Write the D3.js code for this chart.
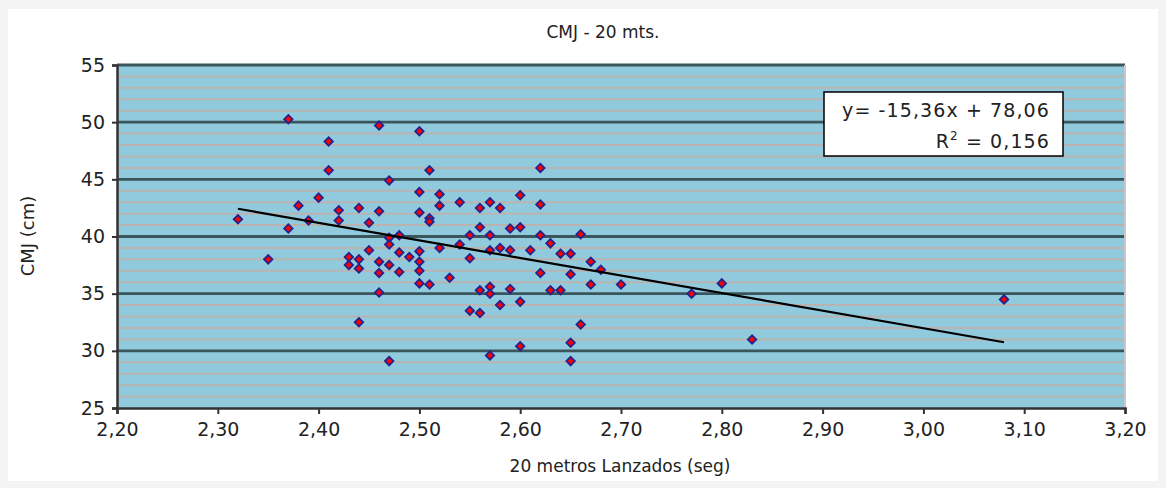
<!DOCTYPE html>
<html><head><meta charset="utf-8">
<script src="https://cdn.jsdelivr.net/npm/d3@7"></script>
<style>
html,body{margin:0;padding:0;background:#f4f4f4;}
svg{display:block;}
text{font-family:"DejaVu Sans",Verdana,sans-serif;fill:#222;}
</style></head>
<body><svg id="c" width="1166" height="488"></svg>
<script>
// ---- data ----
const chartTitle = "CMJ - 20 mts.";
const xLabel = "20 metros Lanzados (seg)";
const yLabel = "CMJ (cm)";
const xTicks = [2.2,2.3,2.4,2.5,2.6,2.7,2.8,2.9,3.0,3.1,3.2];
const yTicks = [25,30,35,40,45,50,55];
const sprintTimes = [
 2.32,2.35,2.37,2.37,2.38,2.39,2.40,2.41,2.41,2.42,2.42,2.43,2.43,
 2.44,2.44,2.44,2.44,2.45,2.45,2.46,2.46,2.46,2.46,2.46,
 2.47,2.47,2.47,2.47,2.47,2.48,2.48,2.48,2.49,
 2.50,2.50,2.50,2.50,2.50,2.50,2.50,2.51,2.51,2.51,2.51,
 2.52,2.52,2.52,2.53,2.54,2.54,2.55,2.55,2.55,
 2.56,2.56,2.56,2.56,2.57,2.57,2.57,2.57,2.57,2.57,
 2.58,2.58,2.58,2.59,2.59,2.59,2.60,2.60,2.60,2.60,2.61,
 2.62,2.62,2.62,2.62,2.63,2.63,2.64,2.64,2.65,2.65,2.65,2.65,
 2.66,2.66,2.67,2.67,2.68,2.70,2.77,2.80,2.83,3.08];
const cmjValues = [
 41.5,38.0,50.25,40.7,42.7,41.4,43.4,48.3,45.8,42.3,41.4,38.2,37.5,
 42.5,38.0,37.2,32.5,41.2,38.8,49.7,42.2,37.8,36.8,35.1,
 44.9,39.9,39.3,37.5,29.1,40.1,38.6,36.9,38.2,
 49.2,43.9,42.1,38.7,37.8,37.0,35.9,45.8,41.6,41.3,35.8,
 43.7,42.7,39.0,36.4,43.0,39.3,40.1,38.1,33.5,
 42.5,40.8,35.3,33.3,43.0,40.1,38.8,35.6,35.0,29.6,
 42.5,39.0,34.0,40.7,38.8,35.4,43.6,40.8,34.3,30.4,38.8,
 46.0,42.8,40.1,36.8,39.4,35.3,38.5,35.3,38.5,36.7,30.7,29.1,
 40.2,32.3,37.8,35.8,37.1,35.8,35.0,35.9,31.0,34.5];
const trendSlope = -15.36;
const trendIntercept = 78.06;
const eqText = "y= -15,36x + 78,06";
const r2Label = "0,156";

// ---- layout ----
const svg = d3.select("#c");
const plot = {l:117, r:1125, t:65, b:408};
const fmt = d3.format(".2f");
const comma = v => fmt(v).replace(".", ",");

svg.append("rect").attr("x",8).attr("y",9).attr("width",1150).attr("height",472).attr("fill","#fff");

const x = d3.scaleLinear().domain([2.2,3.2]).range([plot.l, plot.r]);
const y = d3.scaleLinear().domain([25,55]).range([plot.b, plot.t]);

svg.append("rect").attr("x",plot.l).attr("y",plot.t)
  .attr("width",plot.r-plot.l).attr("height",plot.b-plot.t).attr("fill","#91cadc");

const minor = d3.range(26,55).filter(v => v % 5 !== 0);
svg.append("g").selectAll("line").data(minor).join("line")
  .attr("x1",plot.l).attr("x2",plot.r)
  .attr("y1",d=>y(d)).attr("y2",d=>y(d))
  .attr("stroke","#b9b4b2").attr("stroke-width",2);

svg.append("g").selectAll("line").data(yTicks.filter(v=>v>25)).join("line")
  .attr("x1",plot.l).attr("x2",plot.r)
  .attr("y1",d=>y(d)).attr("y2",d=>y(d))
  .attr("stroke","#3a565c").attr("stroke-width",2.8);

svg.append("line").attr("x1",plot.r).attr("x2",plot.r).attr("y1",plot.t).attr("y2",plot.b)
  .attr("stroke","#c8c8c8").attr("stroke-width",2);

const yAxis = d3.axisLeft(y).tickValues(yTicks).tickSize(5).tickPadding(7).tickFormat(d=>d);
const gy = svg.append("g").attr("transform",`translate(${plot.l},0)`).call(yAxis);
const xAxis = d3.axisBottom(x).tickValues(xTicks).tickSize(6).tickPadding(9).tickFormat(comma);
const gx = svg.append("g").attr("transform",`translate(0,${plot.b})`).call(xAxis);
[gx,gy].forEach(g=>{
  g.select(".domain").attr("stroke","#333").attr("stroke-width",2.5);
  g.selectAll(".tick line").attr("stroke","#333").attr("stroke-width",2);
  g.selectAll("text").style("font-family","DejaVu Sans, sans-serif").style("font-size","19px").attr("fill","#222");
});

// points
const pts = sprintTimes.map((t,i)=>({t, v:cmjValues[i]}));
const marker = d3.symbol().type(d3.symbolSquare).size(36);
svg.append("g").selectAll("path").data(pts).join("path")
  .attr("d",marker)
  .attr("transform",d=>`translate(${x(d.t)},${y(d.v)}) rotate(45)`)
  .attr("fill","#ff0000").attr("stroke","#23238f").attr("stroke-width",1.8);

// trend line
const xExt = d3.extent(sprintTimes);
svg.append("line")
  .attr("x1",x(xExt[0])).attr("y1",y(trendSlope*xExt[0]+trendIntercept))
  .attr("x2",x(xExt[1])).attr("y2",y(trendSlope*xExt[1]+trendIntercept))
  .attr("stroke","#000").attr("stroke-width",2.2);

// equation box
svg.append("rect").attr("x",824).attr("y",92).attr("width",239).attr("height",64)
  .attr("fill","#fff").attr("stroke","#000").attr("stroke-width",1.5);
svg.append("text").attr("x",1050).attr("y",117).attr("text-anchor","end")
  .style("font-size","19px").style("letter-spacing","1.1px").text(eqText);
const r2 = svg.append("text").attr("x",1050).attr("y",148).attr("text-anchor","end")
  .style("font-size","19px").style("letter-spacing","1.1px");
r2.append("tspan").text("R");
r2.append("tspan").attr("dy",-8).style("font-size","12px").text("2");
r2.append("tspan").attr("dy",8).text(" = " + r2Label);

// titles
svg.append("text").attr("x",603).attr("y",38).attr("text-anchor","middle")
  .style("font-size","17px").text(chartTitle);
svg.append("text").attr("x",620).attr("y",472).attr("text-anchor","middle")
  .style("font-size","17px").text(xLabel);
svg.append("text").attr("transform","translate(34,236) rotate(-90)").attr("text-anchor","middle")
  .style("font-size","18px").text(yLabel);
</script></body></html>
